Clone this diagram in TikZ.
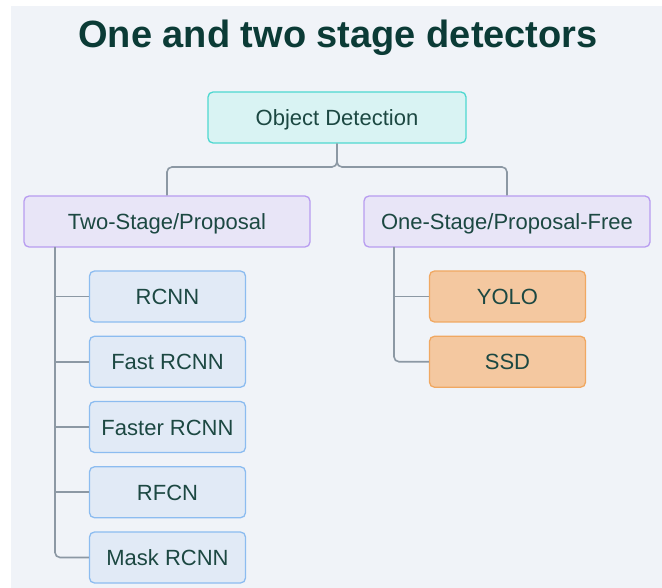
\documentclass[tikz,border=0pt]{standalone}
\usepackage{fontspec}
\setmainfont{Liberation Sans}
\definecolor{bgc}{HTML}{F0F3F8}
\definecolor{titlec}{HTML}{0B3B36}
\definecolor{txtc}{HTML}{1C4842}
\definecolor{rootfill}{HTML}{D9F3F3}
\definecolor{rootdraw}{HTML}{4ED8D0}
\definecolor{stagefill}{HTML}{E8E5F7}
\definecolor{stagedraw}{HTML}{B89CF0}
\definecolor{bluefill}{HTML}{E1EAF6}
\definecolor{bluedraw}{HTML}{8CBCF0}
\definecolor{orfill}{HTML}{F4C8A0}
\definecolor{ordraw}{HTML}{F0A862}
\definecolor{connc}{HTML}{8C98A4}
\tikzset{
  box/.style={rectangle, rounded corners=5pt, line width=1.3pt, inner sep=0pt,
    text=txtc, font=\fontsize{22}{24}\selectfont, anchor=center,
    text height=16pt, text depth=0pt},
  rootbox/.style={box, fill=rootfill, draw=rootdraw, minimum width=258pt, minimum height=51pt},
  stagebox/.style={box, fill=stagefill, draw=stagedraw, minimum width=286pt, minimum height=51pt},
  bluebox/.style={box, fill=bluefill, draw=bluedraw, minimum width=156pt, minimum height=51pt},
  orbox/.style={box, fill=orfill, draw=ordraw, minimum width=156pt, minimum height=51pt},
  conn/.style={draw=connc, line width=1.6pt, rounded corners=5pt},
}
\begin{document}
\begin{tikzpicture}[x=1pt,y=-1pt]
\useasboundingbox (0,0) rectangle (662,588);
\fill[bgc] (11,6) rectangle (662,588);
\node[font=\bfseries\fontsize{38}{40}\selectfont, text=titlec, inner sep=0pt,
  text height=27pt, text depth=0pt] (title) at (338,34) {One and two stage detectors};
\node[rootbox] (root) at (337,117.5) {Object Detection};
\node[stagebox] (two) at (167,221.5) {Two-Stage/Proposal};
\node[stagebox] (one) at (507,221.5) {One-Stage/Proposal-Free};
\node[bluebox] (rcnn) at (167.5,296.5) {RCNN};
\node[bluebox] (fast) at (167.5,361.75) {Fast RCNN};
\node[bluebox] (faster) at (167.5,427) {Faster RCNN};
\node[bluebox] (rfcn) at (167.5,492.25) {RFCN};
\node[bluebox] (mask) at (167.5,557.5) {Mask RCNN};
\node[orbox] (yolo) at (507.5,296.5) {YOLO};
\node[orbox] (ssd) at (507.5,361.75) {SSD};
\coordinate (split) at (337,167);
\coordinate (ltrunk) at (55,247);
\coordinate (rtrunk) at (394,247);
\draw[conn] (root.south) -- (split) -| (two.north);
\draw[conn] (root.south) -- (split) -| (one.north);
\draw[conn] (ltrunk) |- (mask.west);
\draw[conn] (ltrunk |- rcnn.west) -- (rcnn.west);
\draw[conn] (ltrunk |- fast.west) -- (fast.west);
\draw[conn] (ltrunk |- faster.west) -- (faster.west);
\draw[conn] (ltrunk |- rfcn.west) -- (rfcn.west);
\draw[conn] (rtrunk) |- (ssd.west);
\draw[conn] (rtrunk |- yolo.west) -- (yolo.west);
\end{tikzpicture}
\end{document}
